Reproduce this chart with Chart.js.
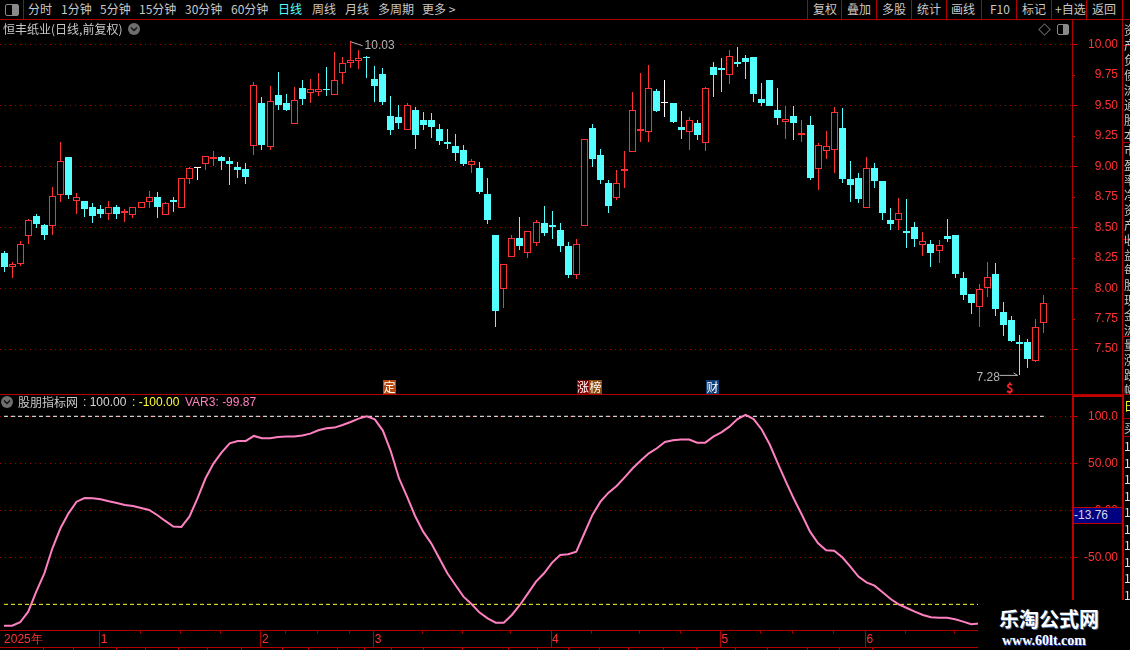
<!DOCTYPE html>
<html>
<head>
<meta charset="utf-8">
<script src="https://cdn.jsdelivr.net/npm/chart.js@4/dist/chart.umd.min.js"></script>
<style>
  html, body { margin: 0; padding: 0; background: #000; overflow: hidden; }
  #page { position: relative; width: 1130px; height: 650px; background: #000; overflow: hidden;
    font: 12px "Noto Sans CJK SC", "Liberation Sans", sans-serif; color: #c8c8c8; }
  #page canvas { position: absolute; left: 0; }
  .t { position: absolute; white-space: nowrap; line-height: 16px; }
  .hl { position: absolute; height: 1px; background: #b00000; }
  .vl { position: absolute; width: 1px; background: #b00000; }
  .tag { position: absolute; top: 380px; width: 13px; height: 14px; line-height: 14px; text-align: center; color: #fff; }
  .round { position: absolute; width: 12px; height: 12px; }
  .strip { position: absolute; left: 1124px; width: 6px; overflow: hidden; line-height: 15px; color: #c8c8c8; }
</style>
</head>
<body>
<div id="page">
  <canvas id="priceChart" width="1118" height="375" style="top:20px"></canvas>
  <canvas id="indicatorChart" width="1118" height="254" style="top:396px"></canvas>

  <!-- toolbar -->
  <div class="hl" style="left:0;top:19px;width:1130px"></div>
  <div class="vl" style="left:23px;top:0;height:19px"></div>
  <div style="position:absolute;left:5px;top:4px;width:12px;height:10px;border:1px solid #8a8a8a;border-radius:2px;background:linear-gradient(90deg,#000 50%,#8a8a8a 50%)"></div>
  <span class="t" style="left:28px;top:1px">分时</span>
  <span class="t" style="left:61px;top:1px">1分钟</span>
  <span class="t" style="left:100px;top:1px">5分钟</span>
  <span class="t" style="left:139px;top:1px">15分钟</span>
  <span class="t" style="left:185px;top:1px">30分钟</span>
  <span class="t" style="left:231px;top:1px">60分钟</span>
  <span class="t" style="left:278px;top:1px;color:#54ffff">日线</span>
  <span class="t" style="left:312px;top:1px">周线</span>
  <span class="t" style="left:345px;top:1px">月线</span>
  <span class="t" style="left:378px;top:1px">多周期</span>
  <span class="t" style="left:422px;top:1px">更多 &gt;</span>
  <span class="t" style="left:813px;top:1px">复权</span>
  <span class="t" style="left:847px;top:1px">叠加</span>
  <span class="t" style="left:882px;top:1px">多股</span>
  <span class="t" style="left:917px;top:1px">统计</span>
  <span class="t" style="left:951px;top:1px">画线</span>
  <span class="t" style="left:990px;top:1px">F10</span>
  <span class="t" style="left:1022px;top:1px">标记</span>
  <span class="t" style="left:1055px;top:1px">+自选</span>
  <span class="t" style="left:1092px;top:1px">返回</span>
  <div class="vl" style="left:807px;top:0;height:19px"></div>
  <div class="vl" style="left:841px;top:0;height:19px"></div>
  <div class="vl" style="left:876px;top:0;height:19px"></div>
  <div class="vl" style="left:911px;top:0;height:19px"></div>
  <div class="vl" style="left:946px;top:0;height:19px"></div>
  <div class="vl" style="left:981px;top:0;height:19px"></div>
  <div class="vl" style="left:1016px;top:0;height:19px"></div>
  <div class="vl" style="left:1051px;top:0;height:19px"></div>
  <div class="vl" style="left:1086px;top:0;height:19px"></div>

  <!-- panel heads -->
  <span class="t" style="left:3px;top:21px">恒丰纸业(日线,前复权)</span>
  <svg class="round" style="left:128px;top:23px" viewBox="0 0 12 12"><circle cx="6" cy="6" r="6" fill="#6e6e6e"/><path d="M3 4.5 L6 7.5 L9 4.5" fill="none" stroke="#111" stroke-width="1.4"/></svg>
  <div style="position:absolute;left:1040px;top:25px;width:7px;height:7px;border:1px solid #666;transform:rotate(45deg)"></div>
  <div style="position:absolute;left:1057px;top:24px;width:10px;height:9px;border:1px solid #8a8a8a;border-radius:2px;background:linear-gradient(90deg,#000 50%,#8a8a8a 50%)"></div>

  <span class="tag" style="left:383px;background:#b84a10">定</span>
  <span class="tag" style="left:577px;width:12px;background:#800000">涨</span>
  <span class="tag" style="left:589px;background:#8a4a10">榜</span>
  <span class="tag" style="left:706px;background:#10407a">财</span>
  <span class="t" style="left:1006px;top:380px;color:#ff2020;font-weight:bold;font-size:13px">$</span>

  <div class="hl" style="left:0;top:394px;width:1130px"></div>
  <svg class="round" style="left:1px;top:396px" viewBox="0 0 12 12"><circle cx="6" cy="6" r="6" fill="#6e6e6e"/><path d="M3 4.5 L6 7.5 L9 4.5" fill="none" stroke="#111" stroke-width="1.4"/></svg>
  <span class="t" style="left:18px;top:394px">股朋指标网</span>
  <span class="t" style="left:83px;top:394px;font-family:'Liberation Sans';color:#d8d8d8">: 100.00</span>
  <span class="t" style="left:132px;top:394px;font-family:'Liberation Sans';color:#ffff32">: -100.00</span>
  <span class="t" style="left:185px;top:394px;font-family:'Liberation Sans';color:#ff80c0">VAR3: -99.87</span>

  <!-- axis frame -->
  <div class="vl" style="left:1072px;top:20px;height:374px"></div>
  <div class="vl" style="left:1122px;top:0;height:394px"></div>
  <div style="position:absolute;left:1072px;top:395px;width:52px;height:2px;background:#c00000"></div>
  <div style="position:absolute;left:1072px;top:396px;width:2px;height:204px;background:#c00000"></div>
  <div style="position:absolute;left:1122px;top:396px;width:2px;height:204px;background:#c00000"></div>
  <div style="position:absolute;left:1074px;top:507px;width:48px;height:15px;background:#000080;border-top:1px solid #c00000;border-bottom:1px solid #c00000"></div>
  <span class="t" style="left:1074px;top:507px;font-family:'Liberation Sans';color:#d8d8e8">-13.76</span>

  <!-- clipped side list -->
  <div class="hl" style="left:1123px;top:45px;width:7px"></div>
  <div class="hl" style="left:1123px;top:142px;width:7px"></div>
  <div class="hl" style="left:1123px;top:239px;width:7px"></div>
  <div class="hl" style="left:1123px;top:336px;width:7px"></div>
  <div class="strip" style="top:22px;height:372px">资<br>产<br>负<br>债<br>流<br>通<br>股<br>本<br>市<br>盈<br>率<br>净<br>资<br>产<br>收<br>益<br>每<br>股<br>现<br>金<br>流<br>量<br>涨<br>跌<br>幅</div>
  <div class="hl" style="left:1123px;top:418px;width:7px"></div>
  <div class="hl" style="left:1123px;top:436px;width:7px"></div>
  <div class="strip" style="top:398px;height:18px;color:#ffff32">日</div>
  <div class="strip" style="top:420px;height:16px">买</div>
  <div class="strip" style="top:438px;height:166px;line-height:16.5px;color:#e0e0e0">1<br>1<br>1<br>1<br>1<br>1<br>1<br>1<br>1<br>1</div>

  <!-- watermark -->
  <div style="position:absolute;left:978px;top:600px;width:152px;height:50px;background:#000"></div>
  <span class="t" style="left:999px;top:607px;font-size:20px;font-weight:bold;line-height:24px;color:#fff;text-shadow:1px 1px 0 #4a6a9a">乐淘公式网</span>
  <span class="t" style="left:1002px;top:633px;font:bold 14px 'Liberation Serif';line-height:16px;color:#fff;text-shadow:1px 1px 0 #2040c0">www.60lt.com</span>
</div>

<script>
// daily bars, 130 trading days
const opens = [8.29,8.17,8.202,8.432,8.593,8.519,8.514,8.768,9.077,8.719,8.716,8.667,8.65,8.612,8.667,8.615,8.604,8.661,8.711,8.749,8.604,8.724,8.661,8.899,8.984,9.022,9.063,9.077,9.044,8.995,8.978,9.164,9.519,9.161,9.584,9.519,9.344,9.642,9.603,9.612,9.633,9.587,9.767,9.844,9.866,9.896,9.715,9.756,9.412,9.404,9.3,9.461,9.379,9.379,9.306,9.199,9.166,9.133,9.013,8.986,8.773,8.437,7.997,8.259,8.412,8.292,8.374,8.535,8.519,8.478,8.347,8.112,8.513,9.314,9.092,8.863,8.743,8.964,9.12,9.292,9.284,9.617,9.519,9.519,9.322,9.284,9.355,9.194,9.814,9.806,9.751,9.855,9.887,9.896,9.551,9.707,9.461,9.36,9.412,9.259,9.338,8.98,9.128,9.131,9.314,8.896,8.904,8.661,8.986,8.879,8.56,8.562,8.47,8.502,8.358,8.363,8.308,8.429,8.437,8.084,7.953,7.849,8.0,8.117,7.806,7.74,7.56,7.56,7.399,7.718];
const highs = [8.306,8.213,8.385,8.566,8.609,8.528,8.831,9.2,9.077,8.782,8.716,8.697,8.683,8.716,8.683,8.65,8.664,8.705,8.798,8.79,8.705,8.749,8.902,8.997,8.997,9.085,9.126,9.085,9.077,9.036,9.028,9.691,9.568,9.658,9.773,9.593,9.65,9.707,9.715,9.765,9.814,9.937,9.896,10.03,9.953,9.904,9.822,9.806,9.576,9.502,9.516,9.483,9.445,9.437,9.347,9.306,9.265,9.174,9.057,9.035,8.904,8.437,8.196,8.437,8.584,8.467,8.56,8.674,8.633,8.535,8.379,8.404,9.221,9.347,9.142,8.887,8.969,9.125,9.609,9.765,9.83,9.633,9.707,9.519,9.453,9.404,9.379,9.65,9.855,9.887,9.953,9.978,9.912,9.896,9.683,9.707,9.642,9.494,9.494,9.379,9.412,9.188,9.289,9.486,9.478,9.043,8.945,9.076,9.027,8.879,8.658,8.74,8.732,8.543,8.461,8.396,8.396,8.568,8.437,8.133,7.953,8.035,8.215,8.207,7.888,7.773,7.617,7.584,7.748,7.945];
const lows = [8.134,8.085,8.183,8.364,8.495,8.396,8.437,8.708,8.732,8.609,8.585,8.536,8.577,8.56,8.568,8.544,8.577,8.661,8.659,8.577,8.601,8.626,8.661,8.855,8.888,8.97,9.003,8.97,8.847,8.905,8.855,9.093,9.133,9.133,9.461,9.453,9.344,9.502,9.519,9.576,9.576,9.584,9.674,9.806,9.797,9.724,9.527,9.502,9.256,9.306,9.297,9.142,9.297,9.232,9.174,9.142,9.043,9.002,8.945,8.773,8.527,7.683,7.838,8.256,8.314,8.248,8.347,8.428,8.404,8.297,8.084,8.076,8.513,8.994,8.855,8.617,8.724,8.822,9.117,9.199,9.199,9.445,9.404,9.355,9.224,9.133,9.215,9.125,9.568,9.609,9.674,9.814,9.715,9.527,9.494,9.494,9.338,9.226,9.215,9.199,8.888,8.806,9.06,8.945,8.863,8.707,8.699,8.658,8.822,8.56,8.478,8.478,8.33,8.338,8.265,8.174,8.207,8.379,8.084,7.904,7.789,7.683,7.929,7.773,7.609,7.56,7.289,7.347,7.396,7.633];
const closes = [8.175,8.197,8.361,8.558,8.528,8.437,8.754,9.041,8.765,8.746,8.65,8.593,8.609,8.664,8.609,8.631,8.664,8.705,8.746,8.667,8.697,8.708,8.902,8.984,8.984,9.082,9.074,9.044,9.019,8.97,8.913,9.664,9.174,9.532,9.502,9.461,9.541,9.552,9.631,9.631,9.625,9.705,9.844,9.868,9.885,9.89,9.658,9.527,9.297,9.355,9.5,9.256,9.338,9.322,9.207,9.183,9.109,9.019,9.04,8.789,8.56,7.814,8.196,8.409,8.347,8.467,8.54,8.453,8.502,8.347,8.109,8.36,9.221,9.06,8.887,8.674,8.86,8.975,9.461,9.306,9.639,9.453,9.519,9.363,9.297,9.377,9.256,9.639,9.748,9.789,9.901,9.838,9.855,9.592,9.519,9.494,9.396,9.39,9.355,9.27,8.904,9.172,9.164,9.442,8.896,8.847,8.732,8.983,8.879,8.617,8.527,8.614,8.453,8.404,8.385,8.289,8.352,8.404,8.117,7.945,7.879,7.991,8.09,7.83,7.699,7.568,7.543,7.42,7.68,7.877];

// VAR3, the last few days sit under the watermark and are left out
const var3 = [-122.7,-122.7,-119.1,-107.8,-86.5,-67,-40.4,-19.1,-3.2,9.2,13.1,12.8,11.7,9.6,7.8,5.7,4.6,2.5,0.4,-5,-11.3,-17.3,-17.7,-6.7,12.8,34.1,50,61.7,71.3,73.8,73.8,79.1,76.6,76.6,78,78.4,78.4,79.5,81.6,85.1,87.3,88,90.8,94,97.5,100,96.8,84.8,62.4,34.1,14.6,-6,-22.7,-35.1,-51,-67,-79.4,-91.8,-99.6,-108.8,-114.9,-119.5,-119.5,-111.3,-100.7,-88.3,-75.9,-67,-55.6,-47.5,-46.8,-44,-24.4,-4.9,9.2,18.8,25.9,35.1,44.7,52.9,60.6,66,72.7,74.5,75.2,75.2,72,72,78.4,83,89,97,101.5,97,86,70,50,30.5,12,-5,-22.7,-35,-42.5,-42.9,-50,-59.9,-70.5,-76.6,-80.1,-87.2,-94.3,-100,-103.9,-107.8,-111.3,-113.8,-114.2,-114.2,-115.9,-118.4,-121.2,-120.5];

// 130 days plus 3 empty slots on the right
const days = Array.from({ length: 133 }, (_, i) => i);
const lastDay = 129;

const priceTicks = [10, 9.75, 9.5, 9.25, 9, 8.75, 8.5, 8.25, 8, 7.75, 7.5];
const indicatorTicks = [100, 50, 0, -50];
const indicatorMinor = [75, 25, -25, -75];
const upperLevel = 100;
const lowerLevel = -100;

const monthDays = [0, 12, 32, 46, 68, 89, 107];
const monthNames = ["2025年", "1", "2", "3", "4", "5", "6"];
const weekDays = [17, 22, 27, 35, 39, 43, 52, 57, 63, 73, 79, 84, 94, 98, 103, 112, 118];

const RED = "#ff3232";
const CYAN = "#54ffff";
const FRAME = "#b00000";
const DOTS = "#a00000";

function candleColor(i) {
  if (closes[i] > opens[i]) return RED;
  if (closes[i] < opens[i]) return CYAN;
  return "#ffffff";
}
const wickColors = opens.map((_, i) => candleColor(i));
const bodyFills = opens.map((_, i) => (closes[i] > opens[i] ? "#000000" : candleColor(i)));

// snap the bars on whole pixels, otherwise they come out blurry
const crispBars = {
  id: "crispBars",
  beforeDatasetsDraw(chart) {
    chart.getSortedVisibleDatasetMetas().forEach((meta) => {
      if (meta.type !== "bar") return;
      meta.data.forEach((bar) => {
        bar.x = Math.round(bar.x - 0.5) + 0.5;
        bar.y = Math.round(bar.y);
        bar.base = Math.round(bar.base);
        if (bar.base === bar.y) bar.base = bar.y + 1;
      });
    });
  },
};

function axisMarks(ctx, scale, value, length) {
  const y = Math.round(scale.getPixelForValue(value)) + 0.5;
  ctx.beginPath();
  ctx.moveTo(scale.left, y);
  ctx.lineTo(scale.left + length, y);
  ctx.stroke();
}

const priceMarks = {
  id: "priceMarks",
  afterDraw(chart) {
    const { ctx, scales } = chart;
    ctx.save();
    ctx.strokeStyle = "#d00000";
    priceTicks.forEach((v) => axisMarks(ctx, scales.y, v, (v * 2) % 1 === 0 ? 5 : 3));

    // high and low labels
    ctx.font = "12px 'Liberation Sans'";
    ctx.textBaseline = "middle";
    ctx.fillStyle = "#b4b4b4";
    ctx.strokeStyle = "#b4b4b4";
    const hx = scales.x.getPixelForValue(43);
    const hy = scales.y.getPixelForValue(highs[43]);
    ctx.fillText("10.03", hx + 14, hy + 5);
    ctx.beginPath();
    ctx.moveTo(hx, hy + 1);
    ctx.lineTo(hx + 12, hy + 5);
    ctx.stroke();
    const lx = scales.x.getPixelForValue(126);
    const ly = scales.y.getPixelForValue(lows[126]);
    ctx.fillText("7.28", lx - 43, ly + 3);
    ctx.beginPath();
    ctx.moveTo(lx - 20, ly + 0.5);
    ctx.lineTo(lx - 2, ly + 0.5);
    ctx.moveTo(lx - 6, ly - 2);
    ctx.lineTo(lx - 2, ly + 0.5);
    ctx.stroke();
    ctx.restore();
  },
};

const indicatorMarks = {
  id: "indicatorMarks",
  afterDraw(chart) {
    const { ctx, scales, chartArea } = chart;
    ctx.save();
    ctx.strokeStyle = "#d00000";
    indicatorTicks.forEach((v) => axisMarks(ctx, scales.y, v, 5));
    indicatorMinor.forEach((v) => axisMarks(ctx, scales.y, v, 2));

    // time axis frame
    ctx.strokeStyle = FRAME;
    const top = chartArea.bottom + 0.5;
    ctx.beginPath();
    ctx.moveTo(0, top);
    ctx.lineTo(978, top);
    ctx.moveTo(0, top + 17);
    ctx.lineTo(978, top + 17);
    monthDays.slice(1).forEach((d) => {
      const x = Math.round(scales.x.getPixelForValue(d) - 1.5) + 0.5;
      ctx.moveTo(x, top);
      ctx.lineTo(x, top + 17);
    });
    weekDays.forEach((d) => {
      const x = Math.round(scales.x.getPixelForValue(d) - 1.5) + 0.5;
      ctx.moveTo(x, top);
      ctx.lineTo(x, top + 3);
    });
    // cells of the status bar cut off by the window
    [43, 73, 116, 145, 178, 207, 241, 282, 308, 337, 364, 391, 423, 462, 508, 537, 568, 599, 628, 663, 696, 735, 767, 807, 839, 872].forEach((x) => {
      ctx.moveTo(x + 0.5, top + 17);
      ctx.lineTo(x + 0.5, top + 20);
    });
    ctx.stroke();
    ctx.restore();
  },
};

function fixedY(values, width) {
  return {
    afterBuildTicks(scale) {
      scale.ticks = values.map((v) => ({ value: v }));
    },
    afterFit(scale) {
      scale.width = width;
      scale.paddingTop = 0;
      scale.paddingBottom = 0;
    },
  };
}

new Chart(document.getElementById("priceChart"), {
  type: "bar",
  data: {
    labels: days,
    datasets: [
      {
        label: "body",
        data: opens.map((o, i) => [Math.min(o, closes[i]), Math.max(o, closes[i])]),
        backgroundColor: bodyFills,
        borderColor: wickColors,
        borderWidth: 1,
        borderSkipped: false,
        inflateAmount: 0,
        barThickness: 7,
        minBarLength: 1,
        order: 1,
      },
      {
        label: "wick",
        data: lows.map((l, i) => [l, highs[i]]),
        backgroundColor: wickColors,
        borderWidth: 0,
        inflateAmount: 0,
        barThickness: 1,
        order: 2,
      },
    ],
  },
  plugins: [crispBars, priceMarks],
  options: {
    responsive: false,
    animation: false,
    events: [],
    layout: { padding: 0 },
    plugins: { legend: { display: false }, tooltip: { enabled: false } },
    datasets: { bar: { grouped: false } },
    scales: {
      x: { display: false, offset: true },
      y: {
        position: "right",
        min: 7.124,
        max: 10.2,
        ...fixedY(priceTicks, 46),
        border: { display: false, dash: [1, 4] },
        grid: {
          drawTicks: false,
          color: (c) => ((c.tick.value * 2) % 1 === 0 ? DOTS : "transparent"),
        },
        ticks: {
          autoSkip: false,
          crossAlign: "far",
          color: RED,
          font: { family: "Liberation Sans", size: 12 },
          callback: (v) => v.toFixed(2),
        },
      },
    },
  },
});

new Chart(document.getElementById("indicatorChart"), {
  type: "line",
  data: {
    labels: days,
    datasets: [
      {
        label: "VAR3",
        data: var3,
        borderColor: "#ff80c0",
        borderWidth: 2,
        pointRadius: 0,
        tension: 0,
        order: 1,
      },
      {
        label: "upper",
        data: [{ x: 0, y: upperLevel }, { x: lastDay, y: upperLevel }],
        borderColor: "#ffffff",
        borderWidth: 1,
        borderDash: [4, 3],
        pointRadius: 0,
        order: 2,
      },
      {
        label: "lower",
        data: [{ x: 0, y: lowerLevel }, { x: lastDay, y: lowerLevel }],
        borderColor: "#ffff32",
        borderWidth: 1,
        borderDash: [4, 3],
        pointRadius: 0,
        order: 3,
      },
    ],
  },
  plugins: [indicatorMarks],
  options: {
    responsive: false,
    animation: false,
    events: [],
    layout: { padding: 0 },
    plugins: { legend: { display: false }, tooltip: { enabled: false } },
    scales: {
      x: {
        offset: true,
        afterBuildTicks(scale) {
          scale.ticks = monthDays.map((d) => ({ value: d }));
        },
        afterFit(scale) {
          scale.height = 20;
          scale.paddingLeft = 0;
          scale.paddingRight = 0;
        },
        border: { display: false },
        grid: { display: false, drawTicks: false },
        ticks: {
          autoSkip: false,
          maxRotation: 0,
          align: "start",
          padding: 2,
          color: RED,
          font: { family: "Liberation Sans", size: 12 },
          callback: (v) => monthNames[monthDays.indexOf(v)],
        },
      },
      y: {
        position: "right",
        min: -127.3,
        max: 121.6,
        ...fixedY(indicatorTicks, 46),
        border: { display: false, dash: [1, 4] },
        grid: { drawTicks: false, color: DOTS },
        ticks: {
          autoSkip: false,
          crossAlign: "far",
          color: RED,
          font: { family: "Liberation Sans", size: 12 },
          callback: (v) => (v === 100 ? "100.0" : v.toFixed(2)),
        },
      },
    },
  },
});
</script>
</body>
</html>
